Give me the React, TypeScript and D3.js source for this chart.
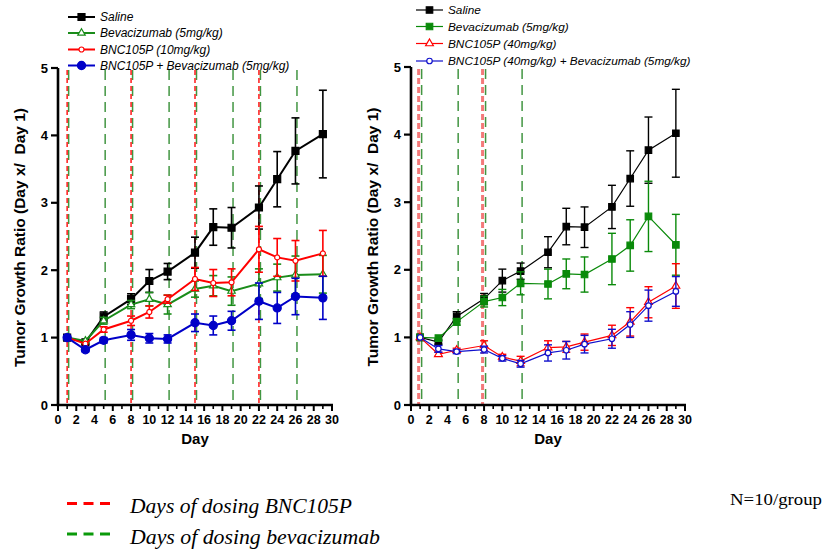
import React from "react";
import * as d3 from "d3";

// study days (x) shared by every group
const days = [1, 3, 5, 8, 10, 12, 15, 17, 19, 22, 24, 26, 29];

// saline (same control in both panels)
const salineMean = [1.0, 0.93, 1.31, 1.57, 1.84, 1.98, 2.26, 2.64, 2.63, 2.93, 3.35, 3.77, 4.02];
const salineErr = [0, 0.03, 0.07, 0.08, 0.17, 0.12, 0.23, 0.27, 0.3, 0.32, 0.41, 0.49, 0.65];

// left panel
const leftBevMean = [1.0, 0.95, 1.25, 1.49, 1.57, 1.49, 1.72, 1.77, 1.69, 1.8, 1.89, 1.93, 1.94];
const leftBevErr = [0, 0.02, 0.05, 0.06, 0.1, 0.14, 0.12, 0.15, 0.21, 0.22, 0.2, 0.28, 0.28];
const leftBncMean = [1.0, 0.91, 1.12, 1.25, 1.38, 1.57, 1.87, 1.81, 1.82, 2.31, 2.19, 2.14, 2.25];
const leftBncErr = [0, 0.02, 0.04, 0.07, 0.09, 0.06, 0.17, 0.2, 0.2, 0.34, 0.28, 0.3, 0.34];
const leftComboMean = [1.0, 0.82, 0.96, 1.04, 0.99, 0.98, 1.22, 1.18, 1.25, 1.54, 1.44, 1.61, 1.59];
const leftComboErr = [0, 0.03, 0.04, 0.08, 0.07, 0.06, 0.13, 0.14, 0.14, 0.27, 0.23, 0.27, 0.32];

// right panel
const rightBevMean = [1.0, 0.99, 1.23, 1.53, 1.59, 1.8, 1.79, 1.94, 1.93, 2.16, 2.36, 2.79, 2.37];
const rightBevErr = [0, 0.02, 0.05, 0.08, 0.12, 0.17, 0.22, 0.22, 0.26, 0.38, 0.38, 0.52, 0.45];
const rightBncMean = [1.0, 0.75, 0.81, 0.88, 0.71, 0.65, 0.85, 0.86, 0.93, 1.03, 1.23, 1.52, 1.76];
const rightBncErr = [0, 0.03, 0.03, 0.07, 0.04, 0.07, 0.1, 0.08, 0.12, 0.15, 0.21, 0.23, 0.33];
const rightComboMean = [1.0, 0.83, 0.79, 0.82, 0.69, 0.61, 0.77, 0.81, 0.9, 0.98, 1.19, 1.47, 1.68];
const rightComboErr = [0, 0.05, 0.03, 0.05, 0.04, 0.05, 0.12, 0.13, 0.13, 0.14, 0.19, 0.23, 0.22];

// dosing days
const leftBncDoseDays = [1, 8, 15, 22];
const leftBevDoseDays = [1, 5, 8, 12, 15, 19, 22, 26];
const rightBncDoseDays = [1, 8];
const rightBevDoseDays = [1, 5, 8, 12];

const leftLabels = ["Saline", "Bevacizumab (5mg/kg)", "BNC105P (10mg/kg)", "BNC105P + Bevacizumab (5mg/kg)"];
const rightLabels = ["Saline", "Bevacizumab (5mg/kg)", "BNC105P (40mg/kg)", "BNC105P (40mg/kg) + Bevacizumab (5mg/kg)"];
const yTicks = [0, 1, 2, 3, 4, 5];
const xTicks = d3.range(0, 31, 2);
const xMinor = d3.range(1, 30, 2);
const yTitle = "Tumor Growth Ratio (Day x/  Day 1)";
const doseLabels = ["Days of dosing BNC105P", "Days of dosing bevacizumab"];
const nLabel = "N=10/group";

const SANS = "'Liberation Sans', Arial, sans-serif";
const SERIF = "'Liberation Serif', 'Times New Roman', serif";

type Series = {
  mean: number[];
  err: number[];
  color: string;
  shape: "square" | "triangle" | "circle";
  filled: boolean;
  size: number;
};

function Marker({ s, x, y }: { s: Series; x: number; y: number }) {
  const sym =
    s.shape === "square" ? d3.symbolSquare : s.shape === "triangle" ? d3.symbolTriangle : d3.symbolCircle;
  const path = d3.symbol().type(sym).size(s.size)() || "";
  return (
    <path
      d={path}
      transform={`translate(${x},${y})`}
      fill={s.filled ? s.color : "#fff"}
      stroke={s.color}
      strokeWidth={1.2}
    />
  );
}

function Panel(props: {
  x0: number;
  x1: number;
  y0: number;
  y1: number;
  series: Series[];
  lineWidth: number;
  bncDays: number[];
  bevDays: number[];
  thickRed: boolean;
  labels: string[];
  legendX: number;
  legendY: number[];
  legendSize: number;
}) {
  const { x0, x1, y0, y1, series, lineWidth, bncDays, bevDays, thickRed, labels } = props;
  const x = d3.scaleLinear().domain([0, 30]).range([x0, x1]);
  const y = d3.scaleLinear().domain([0, 5]).range([y0, y1]);
  const line = d3
    .line<number>()
    .x((_, i) => x(days[i]))
    .y((d) => y(d));

  return (
    <g>
      {/* legend */}
      {labels.map((lab, i) => {
        const ly = props.legendY[i];
        const s = series[i];
        return (
          <g key={lab}>
            <line x1={props.legendX} x2={props.legendX + 27} y1={ly} y2={ly} stroke={s.color} strokeWidth={lineWidth} />
            <Marker s={s} x={props.legendX + 13.5} y={ly} />
            <text
              x={props.legendX + 32}
              y={ly}
              dy="0.35em"
              fontFamily={SANS}
              fontStyle="italic"
              fontSize={props.legendSize}
            >
              {lab}
            </text>
          </g>
        );
      })}

      {/* dosing lines */}
      {bevDays.map((d) => (
        <line
          key={"g" + d}
          x1={x(d) + 1.5}
          x2={x(d) + 1.5}
          y1={y(5) + 2}
          y2={y0}
          stroke="#2e8b2e"
          strokeWidth={1.5}
          strokeDasharray="10,6"
          opacity={0.9}
        />
      ))}
      {bncDays.map((d) => (
        <line
          key={"r" + d}
          x1={x(d) - (thickRed ? 1.5 : 0)}
          x2={x(d) - (thickRed ? 1.5 : 0)}
          y1={y(5) + 2}
          y2={y0}
          stroke={thickRed ? "#f47a7a" : "#ff1a1a"}
          strokeWidth={thickRed ? 3 : 1.5}
          strokeDasharray={thickRed ? "6,3" : "5,3"}
        />
      ))}

      {/* axes */}
      <line x1={x0} x2={x0} y1={y1} y2={y0 + 1} stroke="#000" strokeWidth={2.6} />
      <line x1={x0 - 1.3} x2={x1 + 1} y1={y0} y2={y0} stroke="#000" strokeWidth={2.6} />
      {yTicks.map((t) => (
        <g key={t}>
          <line x1={x0 - 7} x2={x0} y1={y(t)} y2={y(t)} stroke="#000" strokeWidth={2.2} />
          <text
            x={x0 - 10}
            y={y(t)}
            dy="0.36em"
            textAnchor="end"
            fontFamily={SANS}
            fontWeight="bold"
            fontSize={13}
          >
            {t}
          </text>
        </g>
      ))}
      {xTicks.map((t) => (
        <g key={t}>
          <line x1={x(t)} x2={x(t)} y1={y0} y2={y0 + 6} stroke="#000" strokeWidth={2} />
          <text
            x={x(t)}
            y={y0 + 19}
            textAnchor="middle"
            fontFamily={SANS}
            fontWeight="bold"
            fontSize={12.5}
          >
            {t}
          </text>
        </g>
      ))}
      {xMinor.map((t) => (
        <line key={"m" + t} x1={x(t)} x2={x(t)} y1={y0} y2={y0 + 4} stroke="#000" strokeWidth={1.6} />
      ))}
      <text
        x={(x0 + x1) / 2}
        y={y0 + 39}
        textAnchor="middle"
        fontFamily={SANS}
        fontWeight="bold"
        fontSize={15}
      >
        Day
      </text>
      <text
        transform={`translate(${x0 - 33},${(y0 + y1) / 2 + 1}) rotate(-90)`}
        textAnchor="middle"
        fontFamily={SANS}
        fontWeight="bold"
        fontSize={15.5}
        style={{ whiteSpace: "pre" }}
      >
        {yTitle}
      </text>

      {/* series */}
      {series.map((s, si) => (
        <g key={si}>
          {s.mean.map((m, i) =>
            s.err[i] > 0.02 ? (
              <g key={i} stroke={s.color} strokeWidth={lineWidth > 1.5 ? 1.6 : 1.4}>
                <line x1={x(days[i])} x2={x(days[i])} y1={y(m - s.err[i])} y2={y(m + s.err[i])} />
                <line x1={x(days[i]) - 4} x2={x(days[i]) + 4} y1={y(m + s.err[i])} y2={y(m + s.err[i])} />
                <line x1={x(days[i]) - 4} x2={x(days[i]) + 4} y1={y(m - s.err[i])} y2={y(m - s.err[i])} />
              </g>
            ) : null
          )}
          <path d={line(s.mean) || ""} fill="none" stroke={s.color} strokeWidth={lineWidth} />
          {s.mean.map((m, i) => (
            <Marker key={i} s={s} x={x(days[i])} y={y(m)} />
          ))}
        </g>
      ))}
    </g>
  );
}

export default function App() {
  const leftSeries: Series[] = [
    { mean: salineMean, err: salineErr, color: "#000", shape: "square", filled: true, size: 49 },
    { mean: leftBevMean, err: leftBevErr, color: "#1a8c1a", shape: "triangle", filled: false, size: 24 },
    { mean: leftBncMean, err: leftBncErr, color: "#ff0000", shape: "circle", filled: false, size: 20 },
    { mean: leftComboMean, err: leftComboErr, color: "#0000c8", shape: "circle", filled: true, size: 52 },
  ];
  const rightSeries: Series[] = [
    { mean: salineMean, err: salineErr, color: "#000", shape: "square", filled: true, size: 42 },
    { mean: rightBevMean, err: rightBevErr, color: "#0a8a0a", shape: "square", filled: true, size: 42 },
    { mean: rightBncMean, err: rightBncErr, color: "#ff0000", shape: "triangle", filled: false, size: 26 },
    { mean: rightComboMean, err: rightComboErr, color: "#1010cc", shape: "circle", filled: false, size: 24 },
  ];

  return (
    <div style={{ position: "absolute", left: 0, top: 0 }}>
      <svg width={825} height={553} style={{ display: "block", background: "#fff" }}>
        <Panel
          x0={58}
          x1={332}
          y0={405}
          y1={68}
          series={leftSeries}
          lineWidth={2}
          bncDays={leftBncDoseDays}
          bevDays={leftBevDoseDays}
          thickRed={false}
          labels={leftLabels}
          legendX={68}
          legendY={[17, 33, 49.5, 65.5]}
          legendSize={12}
        />
        <Panel
          x0={411}
          x1={685}
          y0={405}
          y1={67}
          series={rightSeries}
          lineWidth={1.2}
          bncDays={rightBncDoseDays}
          bevDays={rightBevDoseDays}
          thickRed={true}
          labels={rightLabels}
          legendX={416}
          legendY={[10, 26.5, 43.5, 61]}
          legendSize={11.8}
        />

        {/* dosing legend */}
        <line x1={67} x2={110} y1={503.5} y2={503.5} stroke="#ff0000" strokeWidth={3} strokeDasharray="10,6.5" />
        <line x1={67} x2={110} y1={534} y2={534} stroke="#0a9a0a" strokeWidth={3} strokeDasharray="10,6.5" />
        <text
          x={130}
          y={513}
          fontFamily={SERIF}
          fontStyle="italic"
          fontSize={21}
          textLength={222}
          lengthAdjust="spacingAndGlyphs"
        >
          {doseLabels[0]}
        </text>
        <text
          x={130}
          y={544}
          fontFamily={SERIF}
          fontStyle="italic"
          fontSize={21}
          textLength={250}
          lengthAdjust="spacingAndGlyphs"
        >
          {doseLabels[1]}
        </text>
        <text x={730} y={505} fontFamily={SERIF} fontSize={16} textLength={92} lengthAdjust="spacingAndGlyphs">
          {nLabel}
        </text>
      </svg>
    </div>
  );
}
